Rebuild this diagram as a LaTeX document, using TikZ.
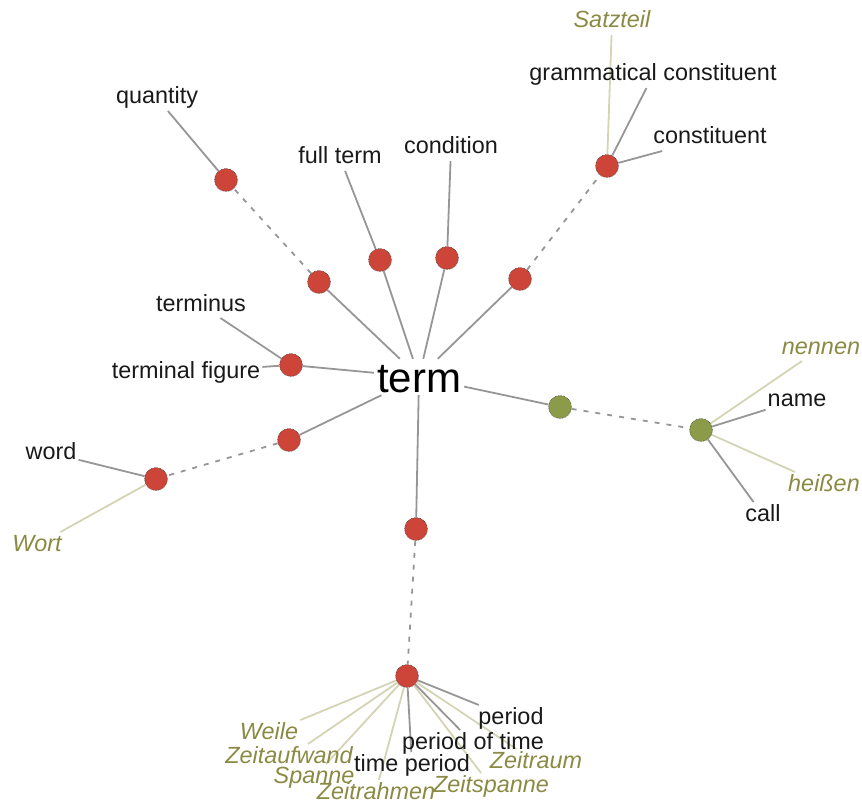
\documentclass[tikz,border=0pt]{standalone}
\usepackage{fontspec}
\setmainfont{Liberation Sans}
\usetikzlibrary{backgrounds}
\definecolor{nodered}{RGB}{204,69,56}
\definecolor{nodegreen}{RGB}{139,155,74}
\definecolor{deolive}{RGB}{138,138,68}
\definecolor{linegrey}{RGB}{150,150,150}
\definecolor{lineolive}{RGB}{212,212,180}
\begin{document}
\begin{tikzpicture}[x=1pt,y=-1pt,
  hub/.style={circle, minimum size=23pt, inner sep=0pt, fill=nodered, draw=black!75, densely dotted, line width=0.6pt},
  hubg/.style={hub, fill=nodegreen},
  en/.style={font=\fontsize{23.4}{27}\selectfont, text=black!90, inner sep=2pt, text height=16.8pt, text depth=4.8pt},
  de/.style={en, text=deolive, font=\fontsize{23.4}{27}\selectfont\itshape},
  termstyle/.style={font=\fontsize{42}{48}\selectfont, text=black, inner sep=3pt, text height=30pt, text depth=0pt},
  enl/.style={draw=linegrey, line width=1.8pt},
  del/.style={draw=lineolive, line width=1.8pt},
  syn/.style={draw=linegrey, line width=1.8pt, dash pattern=on 5pt off 7pt}]
\useasboundingbox (0,0) rectangle (862,805);

% centre
\node[termstyle] (term) at (419,377) {term};

% hubs
\node[hub] (q0) at (319,282) {};
\node[hub] (q1) at (226,180) {};
\node[hub] (ft) at (380,260) {};
\node[hub] (co) at (447,258) {};
\node[hub] (c0) at (520,279) {};
\node[hub] (c1) at (607,166) {};
\node[hub] (tf) at (291,365) {};
\node[hub] (w0) at (289,440) {};
\node[hub] (w1) at (156,479) {};
\node[hub] (p0) at (416,529) {};
\node[hub] (p1) at (407,676) {};
\node[hubg] (g0) at (560,407) {};
\node[hubg] (g1) at (701,430) {};

% labels
\node[en] (lquantity) at (157,98) {quantity};
\node[en] (lfullterm) at (340,158) {full term};
\node[en] (lcondition) at (451,148) {condition};
\node[de] (lsatzteil) at (612,22) {Satzteil};
\node[en] (lgramm) at (653,75) {grammatical constituent};
\node[en] (lconst) at (710,138) {constituent};
\node[en] (lterminus) at (201,305) {terminus};
\node[en] (ltermfig) at (186,372) {terminal figure};
\node[en] (lword) at (51,453) {word};
\node[de] (lwort) at (37,545) {Wort};
\node[de] (lnennen) at (821,348) {nennen};
\node[en] (lname) at (797,400) {name};
\node[de] (lheissen) at (824,485) {heißen};
\node[en] (lcall) at (763,515) {call};
\node[en] (lperiod) at (511,718) {period};
\node[en] (lperiodoftime) at (473,743) {period of time};
\node[en] (ltimeperiod) at (412,765) {time period};
\node[de] (lweile) at (269,733) {Weile};
\node[de] (lzeitaufwand) at (289,757) {Zeitaufwand};
\node[de] (lspanne) at (314,777) {Spanne};
\node[de, text depth=0pt, anchor=base] (lzeitrahmen) at (376,799) {Zeitrahmen};
\node[de] (lzeitraum) at (536,762) {Zeitraum};
\node[de] (lzeitspanne) at (491,786) {Zeitspanne};

\begin{scope}[on background layer]
  % from centre
  \foreach \n in {q0,ft,co,c0,tf,w0,p0,g0} \draw[enl] (term) -- (\n);
  % dashed links
  \draw[syn] (q0) -- (q1);
  \draw[syn] (c0) -- (c1);
  \draw[syn] (w0) -- (w1);
  \draw[syn] (p0) -- (p1);
  \draw[syn] (g0) -- (g1);
  % leaves
  \draw[enl] (q1) -- (lquantity);
  \draw[enl] (ft) -- (lfullterm);
  \draw[enl] (co) -- (lcondition);
  \draw[del] (c1) -- (lsatzteil);
  \draw[enl] (c1) -- (lgramm);
  \draw[enl] (c1) -- (lconst);
  \draw[enl] (tf) -- (lterminus);
  \draw[enl] (tf) -- (ltermfig);
  \draw[enl] (w1) -- (lword);
  \draw[del] (w1) -- (lwort);
  \draw[del] (g1) -- (lnennen);
  \draw[enl] (g1) -- (lname);
  \draw[del] (g1) -- (lheissen);
  \draw[enl] (g1) -- (lcall);
  \draw[del] (p1) -- (lweile);
  \draw[del] (p1) -- (lzeitaufwand);
  \draw[del] (p1) -- (lspanne);
  \draw[del] (p1) -- (lzeitrahmen);
  \draw[del] (p1) -- (lzeitraum);
  \draw[del] (p1) -- (lzeitspanne);
  \draw[enl] (p1) -- (lperiod);
  \draw[enl] (p1) -- (lperiodoftime);
  \draw[enl] (p1) -- (ltimeperiod);
\end{scope}
\end{tikzpicture}
\end{document}
